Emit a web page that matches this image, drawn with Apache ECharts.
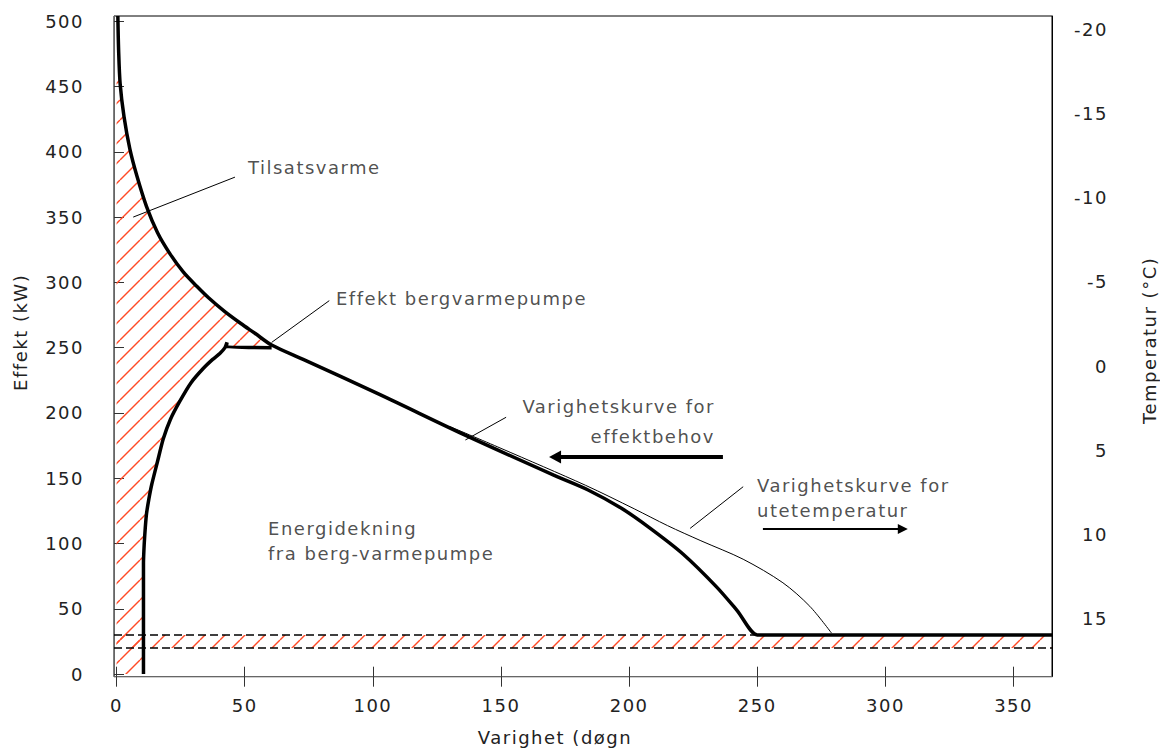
<!DOCTYPE html>
<html>
<head>
<meta charset="utf-8">
<title>Varighetskurve</title>
<script src="https://cdn.jsdelivr.net/npm/echarts@6/dist/echarts.min.js"></script>
<style>
  html, body { margin: 0; background: #fff; }
  #chart { width: 1160px; height: 751px; }
  /* teksten i originalen er sperret litt */
  #chart text { letter-spacing: 1.5px; }
</style>
</head>
<body>
<div id="chart"></div>
<script>
// varighetskurve for effektbehov (døgn, kW)
const dagerBehov = [0.5, 0.8, 1.4, 2.9, 5.2, 8, 11.7, 16, 20.8, 26, 31.3, 36, 42, 48.5, 54, 60.5, 72.8, 102.8, 136, 171, 184, 197, 208, 221, 234, 242, 250, 251, 365];
const effektBehov = [504, 478, 452, 427, 402, 381, 358, 338, 322, 308, 297, 288, 278, 268.5, 261, 252, 241, 214, 183, 152, 141, 127, 112, 92, 67, 49, 30, 30, 30];

// effekt bergvarmepumpe (døgn, kW)
const dagerVp = [10.5, 10.5, 10.8, 11.2, 11.7, 12.6, 13.7, 16, 18.2, 21, 24.7, 29, 33.8, 37.5, 40.3, 42.3, 43.1, 42.8, 60.5];
const effektVp = [0, 85, 100, 112, 123, 134, 145, 163, 180, 195, 209, 223, 234, 241, 245.5, 250, 254, 250.5, 250];

// varighetskurve for utetemperatur (døgn, °C)
const dagerTemp = [130, 150, 183, 202, 215, 228, 244.5, 260, 270.5, 279];
const utetemp = [3.6, 4.9, 7.1, 8.5, 9.5, 10.4, 11.5, 12.9, 14.3, 15.9];

// stiplede grenser (kW)
const grenser = [20, 30];

const dagTicks = [0, 50, 100, 150, 200, 250, 300, 350];
const effektTicks = [0, 50, 100, 150, 200, 250, 300, 350, 400, 450, 500];
const tempTicks = [-20, -15, -10, -5, 0, 5, 10, 15];

// tekster og hjelpelinjer, i datakoordinater
const notater = [
  { tekst: 'Tilsatsvarme', pos: [51.3, 388], align: 'left', lh: 22 },
  { tekst: 'Effekt bergvarmepumpe', pos: [85.6, 288], align: 'left', lh: 22 },
  { tekst: 'Varighetskurve for\neffektbehov', pos: [233.5, 193.3], align: 'right', lh: 30 },
  { tekst: 'Varighetskurve for\nutetemperatur', pos: [249.9, 135.2], align: 'left', lh: 25 },
  { tekst: 'Energidekning\nfra berg-varmepumpe', pos: [59.1, 102.1], align: 'left', lh: 25 }
];
const ledere = [
  [[6.5, 350], [46.2, 380.6]],
  [[60.5, 254], [83, 286]],
  [[136.1, 179.3], [152, 196.7]],
  [[223.8, 111.6], [244.5, 143.5]]
];
const piler = [
  { fra: [236.6, 166.3], til: [171.1, 166.3], bredde: 4, hode: [13, 12] },
  { fra: [252.2, 111.1], til: [306.8, 111.1], bredde: 2, hode: [10, 10] }
];

function lagSkravur() {
  const c = document.createElement('canvas');
  c.width = c.height = 20;
  const ctx = c.getContext('2d');
  ctx.strokeStyle = '#ff4a26';
  ctx.lineWidth = 1.4;
  for (let k = -1; k <= 1; k++) {
    ctx.beginPath();
    ctx.moveTo(k * 20, 20);
    ctx.lineTo(k * 20 + 20, 0);
    ctx.stroke();
  }
  return { image: c, repeat: 'repeat' };
}
const skravur = lagSkravur();

// området for tilsatsvarme: mellom aksen, behovskurven og varmepumpekurven
const kant = [[0, 0], [0, 460]];
dagerBehov.forEach((d, i) => {
  if (effektBehov[i] <= 460 && d <= 60.5) kant.push([d, effektBehov[i]]);
});
for (let i = dagerVp.length - 1; i >= 0; i--) kant.push([dagerVp[i], effektVp[i]]);

const chart = echarts.init(document.getElementById('chart'), null, { renderer: 'svg' });

const tekst = { fontFamily: 'DejaVu Sans', fontSize: 18, color: '#222' };

chart.setOption({
  animation: false,
  textStyle: tekst,
  grid: {
    left: 114, top: 16, width: 938, height: 660.7,
    show: true, borderColor: '#000', borderWidth: 1,
    containLabel: false, outerBoundsMode: 'none'
  },
  xAxis: [{
    type: 'value', min: -1, max: 365,
    name: 'Varighet (døgn', nameLocation: 'middle', nameGap: 52,
    nameTextStyle: Object.assign({}, tekst, { padding: [0, 56, 0, 0] }),
    axisLine: { onZero: false, lineStyle: { color: '#666' } },
    axisTick: { inside: true, length: 10, customValues: dagTicks, lineStyle: { color: '#333' } },
    axisLabel: Object.assign({}, tekst, { customValues: dagTicks, margin: 20 }),
    splitLine: { show: false }
  }, {
    type: 'value', min: -1, max: 365, position: 'bottom',
    axisLine: { show: false, onZero: false },
    axisTick: { length: 10, customValues: dagTicks, lineStyle: { color: '#333' } },
    axisLabel: { show: false },
    splitLine: { show: false }
  }],
  yAxis: [{
    type: 'value', min: -2, max: 504,
    name: 'Effekt (kW)', nameLocation: 'middle', nameGap: 85,
    nameTextStyle: Object.assign({}, tekst, { padding: [0, 0, 0, 28] }),
    axisLine: { show: true, onZero: false, lineStyle: { color: '#666' } },
    axisTick: { show: true, inside: true, length: 10, customValues: effektTicks, lineStyle: { color: '#333' } },
    axisLabel: Object.assign({}, tekst, { customValues: effektTicks, margin: 30 }),
    splitLine: { show: false }
  }, {
    type: 'value', inverse: true, min: -20.83, max: 18.49, position: 'right',
    name: 'Temperatur (°C)', nameLocation: 'middle', nameGap: 88,
    nameTextStyle: Object.assign({}, tekst, { padding: [0, 0, 0, 12] }),
    axisLine: { show: true, onZero: false, lineStyle: { color: '#000' } },
    axisTick: { show: false },
    axisLabel: Object.assign({}, tekst, { customValues: tempTicks, margin: 56, align: 'right' }),
    splitLine: { show: false }
  }],
  series: [
    {
      name: 'Tilsatsvarme',
      type: 'custom',
      silent: true,
      clip: true,
      data: [0],
      renderItem: (params, api) => ({
        type: 'polygon',
        shape: { points: kant.map(p => api.coord(p)) },
        style: { fill: skravur, stroke: null }
      }),
      z: 1
    },
    {
      name: 'Utetemperatur',
      type: 'line',
      yAxisIndex: 1,
      data: dagerTemp.map((d, i) => [d, utetemp[i]]),
      smooth: 0.3,
      symbol: 'none',
      lineStyle: { color: '#000', width: 1 },
      z: 3
    },
    {
      name: 'Effektbehov',
      type: 'line',
      data: dagerBehov.map((d, i) => [d, effektBehov[i]]),
      smooth: 0.3,
      symbol: 'none',
      lineStyle: { color: '#000', width: 3.5 },
      markArea: {
        silent: true,
        itemStyle: { color: skravur },
        data: [[{ xAxis: 0, yAxis: grenser[0] }, { xAxis: 365, yAxis: grenser[1] }]]
      },
      markLine: {
        silent: true,
        symbol: 'none',
        label: { show: false },
        lineStyle: { color: '#000', width: 1.5, type: [8, 4] },
        data: grenser.map(g => ({ yAxis: g }))
      },
      z: 4
    },
    {
      name: 'Bergvarmepumpe',
      type: 'line',
      data: dagerVp.map((d, i) => [d, effektVp[i]]),
      smooth: 0.2,
      symbol: 'none',
      lineStyle: { color: '#000', width: 3.5 },
      z: 4
    },
    {
      name: 'Tekster',
      type: 'scatter',
      silent: true,
      symbolSize: 1,
      itemStyle: { color: 'transparent' },
      label: Object.assign({}, tekst, { show: true, position: 'inside', verticalAlign: 'middle' }),
      data: notater.map(n => ({
        value: n.pos,
        label: { formatter: n.tekst, align: n.align, lineHeight: n.lh }
      })),
      markLine: {
        silent: true,
        symbol: 'none',
        label: { show: false },
        lineStyle: { color: '#000', width: 1, type: 'solid' },
        data: ledere.map(l => [{ coord: l[0] }, { coord: l[1] }]).concat(piler.map(p => [
          { coord: p.fra, lineStyle: { width: p.bredde } },
          { coord: p.til, symbol: 'triangle', symbolSize: p.hode, lineStyle: { width: p.bredde } }
        ]))
      },
      z: 5
    }
  ]
});
</script>
</body>
</html>
